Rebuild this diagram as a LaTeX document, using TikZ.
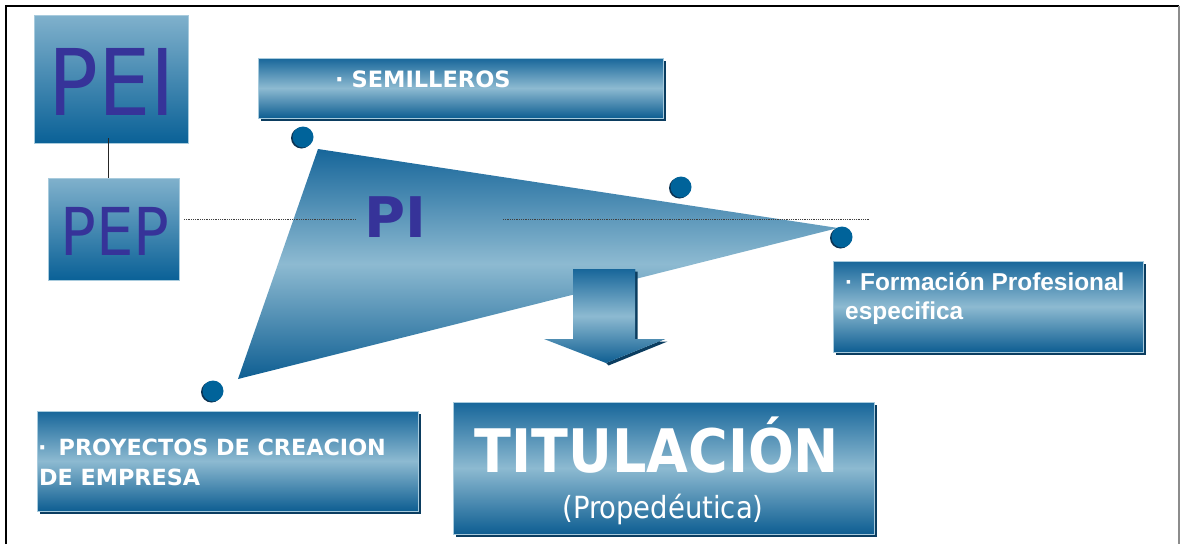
\documentclass[tikz,border=0pt]{standalone}
\usepackage{fontspec}
\newfontfamily\tah{DejaVu Sans Condensed}
\newfontfamily\vrd{DejaVu Sans}
\newfontfamily\ari{Liberation Sans}
\usetikzlibrary{calc,shadows}
\definecolor{bdark}{HTML}{17669A}
\definecolor{blight}{HTML}{8DBAD1}
\definecolor{bbot}{HTML}{0E5E92}
\definecolor{ptop}{HTML}{80B1CC}
\definecolor{pbot}{HTML}{0A6197}
\definecolor{shad}{HTML}{0B3D60}
\definecolor{dotc}{HTML}{00639A}
\definecolor{dotsh}{HTML}{0C3352}
\definecolor{navy}{HTML}{363399}
\definecolor{edge}{HTML}{A8CBDD}
\begin{document}
\begin{tikzpicture}[x=1pt,y=-1pt,
  pbox/.style={rectangle, inner sep=0pt, draw=edge, line width=0.8pt,
    top color=ptop, bottom color=pbot},
  gbox/.style={rectangle, inner sep=0pt, draw=edge, line width=0.5pt,
    drop shadow={shadow xshift=2.5pt, shadow yshift=-2.5pt, fill=shad, opacity=1},
    top color=bdark, bottom color=bbot, middle color=blight},
  bigtxt/.style={inner sep=0pt, text=navy, font=\tah},
  wtxt/.style={inner sep=0pt, text=white},
  dotline/.style={densely dotted, line width=0.8pt, black!75},
  dotnode/.style={circle, fill=dotc, minimum size=21pt, inner sep=0pt,
    drop shadow={shadow xshift=-1.5pt, shadow yshift=-1pt, fill=dotsh, opacity=1}},
  frame/.style={line width=2pt, black}
]
\useasboundingbox (0,0) rectangle (1180,544);
% frame
\draw[frame] (6,544) -- (6,6) -- (1179,6);
\draw[line width=1.5pt, black!45] (1179,6) -- (1179,544);

% PEI / PEP
\node[pbox, minimum width=154pt, minimum height=128pt] (PEI) at (111,79) {};
\node[bigtxt, font=\tah\fontsize{92}{96}\selectfont] (PEIt) at (112,81.5) {PEI};
\node[pbox, minimum width=131pt, minimum height=102pt] (PEP) at (113.5,229) {};
\node[bigtxt, font=\tah\fontsize{66}{70}\selectfont] (PEPt) at (115,231.5) {PEP};
\draw[line width=1pt, black!85] ($(PEI.south)+(-3,-5)$) -- ($(PEP.north)+(-5.5,0)$);

% SEMILLEROS box
\node[gbox, minimum width=405pt, minimum height=60pt] (SEM) at (460.5,88) {};
\node[wtxt, anchor=base west, font=\vrd\bfseries\fontsize{22.5}{27}\selectfont] (SEMt) at (335,87) {· SEMILLEROS};

% triangle
\path[top color=bdark, bottom color=bbot, middle color=blight]
  (318,149) -- (838,228) -- (238,379) -- cycle;

% dotted lines
\coordinate (d0) at (184,219);
\coordinate (d1) at (356,219);
\coordinate (d2) at (503,219);
\coordinate (d3) at (870,219);
\draw[dotline] (d0) -- (d1);
\draw[dotline] (d2) -- (d3);

% PI
\node[bigtxt, font=\vrd\bfseries\fontsize{56}{60}\selectfont] (PI) at (395,217) {PI};

% dots
\node[dotnode] (c1) at (303,137) {};
\node[dotnode] (c2) at (681,187) {};
\node[dotnode] (c3) at (842,237) {};
\node[dotnode] (c4) at (213,391) {};

% down arrow
\fill[shad] (575.5,271.5) -- (637.5,271.5) -- (637.5,341.5) -- (667.5,341.5) -- (608.5,365.5) -- (606,363) -- (665,339) -- (635,339) -- (635,269) -- cycle;
\path[top color=bdark, bottom color=bbot, middle color=blight]
  (573,269) -- (635,269) -- (635,339) -- (665,339) -- (606,363) -- (544,339) -- (573,339) -- cycle;

% Formacion box
\node[gbox, minimum width=310pt, minimum height=91pt] (FOR) at (988,306.5) {};
\node[wtxt, anchor=base west, font=\ari\bfseries\fontsize{24.4}{28}\selectfont] (FOR1) at (845,290) {· Formación Profesional};
\node[wtxt, anchor=base west, font=\ari\bfseries\fontsize{24.4}{28}\selectfont] (FOR2) at (845,319) {especifica};

% Proyectos box
\node[gbox, minimum width=381pt, minimum height=100pt] (PRO) at (227.5,461) {};
\node[wtxt, anchor=base west, font=\vrd\bfseries\fontsize{22.3}{28}\selectfont] (PRO1) at (38,455) {·\hspace{12pt}PROYECTOS DE CREACION};
\node[wtxt, anchor=base west, font=\vrd\bfseries\fontsize{22.3}{28}\selectfont] (PRO2) at (39,485) {DE EMPRESA};

% Titulacion box
\node[gbox, minimum width=421pt, minimum height=132pt] (TIT) at (663.5,468) {};
\node[wtxt, anchor=base, font=\tah\bfseries\fontsize{60}{62}\selectfont] (TIT1) at (657,472) {TITULACIÓN};
\node[wtxt, anchor=base, font=\tah\fontsize{30.5}{34}\selectfont] (TIT2) at (663,518) {(Propedéutica)};
\end{tikzpicture}
\end{document}
